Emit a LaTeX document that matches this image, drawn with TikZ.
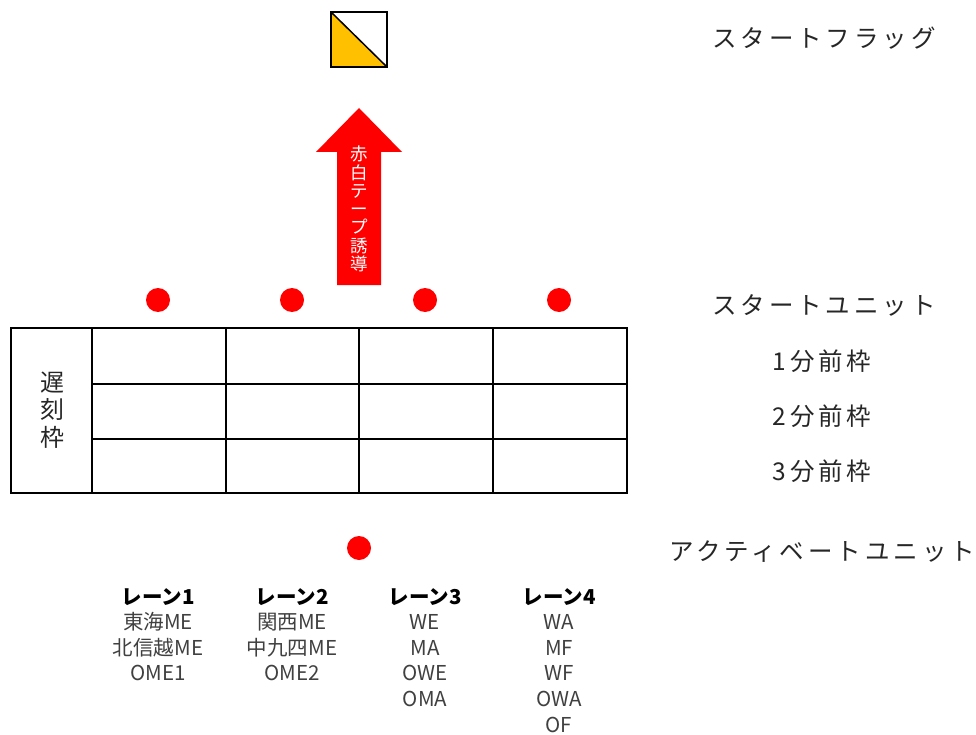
\documentclass[tikz,border=0pt]{standalone}
\usepackage{fontspec}
\setmainfont{Noto Sans CJK JP}
\definecolor{flagYellow}{HTML}{FFC000}
\definecolor{laneGray}{HTML}{404040}
\begin{document}
\begin{tikzpicture}[x=1pt,y=-1pt,
    dot/.style={circle,fill=red,minimum size=24pt,inner sep=0pt},
    sidetext/.style={inner sep=0pt,text=black!85,font=\fontsize{24.5}{28}\selectfont\addfontfeature{LetterSpace=16}},
    lanetext/.style={anchor=north,inner sep=0pt,align=center,text=laneGray,font=\fontsize{20.5}{25.6}\selectfont}]
  \useasboundingbox (0,0) rectangle (976,735);
  % start flag
  \fill[flagYellow] (331,12) -- (331,67) -- (387,67) -- cycle;
  \draw[line width=1.5pt] (331,12) rectangle (387,67);
  \draw[line width=1.5pt] (331,12) -- (387,67);
  % red-white tape arrow
  \fill[red] (337,285) -- (337,152) -- (316,152) -- (359,108) -- (402,152) -- (381,152) -- (381,285) -- cycle;
  \node[inner sep=0pt,align=center,text=white,font=\fontsize{17.5}{18.3}\selectfont] (tape) at (359,209) {赤\\白\\テ\\ー\\プ\\誘\\導};
  % start unit dots
  \node[dot] (su1) at (158,300) {};
  \node[dot] (su2) at (292,300) {};
  \node[dot] (su3) at (425,300) {};
  \node[dot] (su4) at (559,300) {};
  % frames
  \draw[line width=2pt] (11,328) rectangle (627,493);
  \draw[line width=2pt] (92,328) -- (92,493);
  \draw[line width=2pt] (226,328) -- (226,493);
  \draw[line width=2pt] (359,328) -- (359,493);
  \draw[line width=2pt] (493,328) -- (493,493);
  \draw[line width=2pt] (92,384) -- (627,384);
  \draw[line width=2pt] (92,439) -- (627,439);
  \node[inner sep=0pt,align=center,text=black!85,font=\fontsize{24}{27.5}\selectfont] (late) at (52,410) {遅\\刻\\枠};
  % activate unit
  \node[dot] (au) at (359,548) {};
  % side labels
  \node[sidetext] (flaglbl) at (824,38) {スタートフラッグ};
  \node[sidetext] (sulbl) at (824,305) {スタートユニット};
  \node[sidetext] (f1lbl) at (822,361) {1分前枠};
  \node[sidetext] (f2lbl) at (822,416) {2分前枠};
  \node[sidetext] (f3lbl) at (822,471) {3分前枠};
  \node[sidetext] (aulbl) at (822,552) {アクティベートユニット};
  % lanes
  \node[lanetext] (lane1) at (158,588) {{\bfseries\color{black}レーン1}\\東海ME\\北信越ME\\OME1};
  \node[lanetext] (lane2) at (292,588) {{\bfseries\color{black}レーン2}\\関西ME\\中九四ME\\OME2};
  \node[lanetext] (lane3) at (425,588) {{\bfseries\color{black}レーン3}\\WE\\MA\\OWE\\OMA};
  \node[lanetext] (lane4) at (559,588) {{\bfseries\color{black}レーン4}\\WA\\MF\\WF\\OWA\\OF};
\end{tikzpicture}
\end{document}
